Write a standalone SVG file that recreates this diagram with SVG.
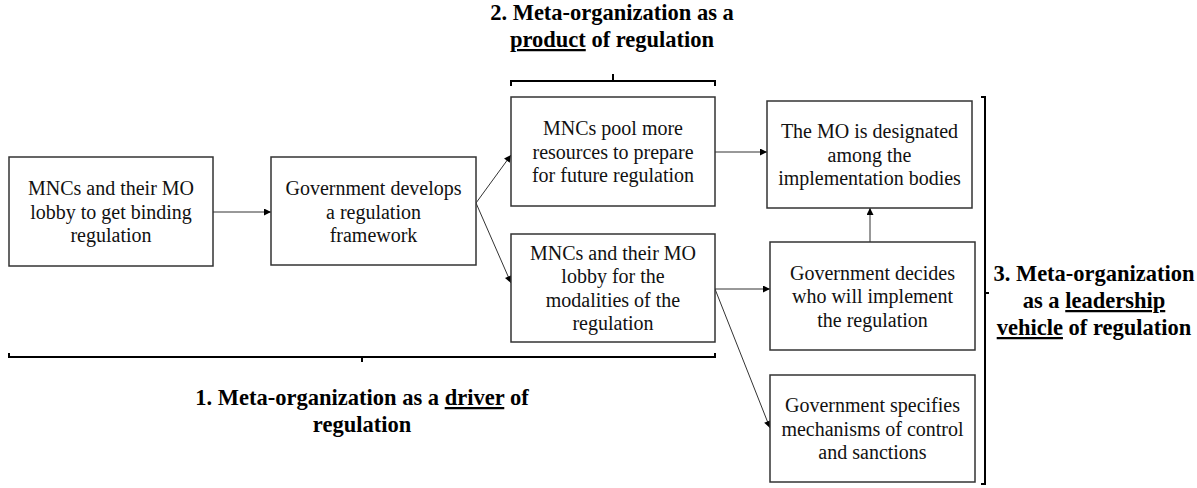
<svg xmlns="http://www.w3.org/2000/svg" width="1197" height="488" viewBox="0 0 1197 488">
<style>
.box{fill:#fff;stroke:#333;stroke-width:1.5}
.t{font-family:'Liberation Serif','Times New Roman',Times,serif;font-size:20px;fill:#111;text-anchor:middle}
.lb{font-family:'Liberation Serif','Times New Roman',Times,serif;font-size:22.5px;font-weight:bold;fill:#000;text-anchor:middle}
.c{stroke:#333;stroke-width:1;fill:none;marker-end:url(#ah)}
.br{stroke:#000;stroke-width:2;fill:none}
</style>
<defs>
<marker id="ah" viewBox="0 0 10 10" refX="10" refY="5" markerWidth="8" markerHeight="7" markerUnits="userSpaceOnUse" orient="auto">
<path d="M0,0 L10,5 L0,10 z" fill="#000"/>
</marker>
</defs>
<rect width="1197" height="488" fill="#fff"/>

<g id="connectors">
<line class="c" x1="213" y1="212" x2="271" y2="212"/>
<line class="c" x1="476" y1="203" x2="511" y2="155"/>
<line class="c" x1="476" y1="203" x2="511" y2="283"/>
<line class="c" x1="715" y1="152" x2="767" y2="152"/>
<line class="c" x1="715" y1="289" x2="770" y2="289"/>
<line class="c" x1="715" y1="289" x2="770" y2="428"/>
<line class="c" x1="870" y1="242" x2="870" y2="208"/>
</g>

<g id="n1"><rect class="box" x="9" y="157" width="204" height="109"/>
<text class="t" x="111" y="195">MNCs and their MO</text>
<text class="t" x="111" y="218.5">lobby to get binding</text>
<text class="t" x="111" y="242">regulation</text></g>

<g id="n2"><rect class="box" x="271" y="157" width="205" height="108"/>
<text class="t" x="373.5" y="195">Government develops</text>
<text class="t" x="373.5" y="218.5">a regulation</text>
<text class="t" x="373.5" y="242">framework</text></g>

<g id="n3"><rect class="box" x="511" y="97" width="204" height="109"/>
<text class="t" x="613" y="135">MNCs pool more</text>
<text class="t" x="613" y="158.5">resources to prepare</text>
<text class="t" x="613" y="182">for future regulation</text></g>

<g id="n4"><rect class="box" x="511" y="234" width="204" height="108"/>
<text class="t" x="613" y="259.5">MNCs and their MO</text>
<text class="t" x="613" y="283">lobby for the</text>
<text class="t" x="613" y="306.5">modalities of the</text>
<text class="t" x="613" y="330">regulation</text></g>

<g id="n5"><rect class="box" x="767" y="101" width="205" height="107"/>
<text class="t" x="869.5" y="138">The MO is designated</text>
<text class="t" x="869.5" y="161.5">among the</text>
<text class="t" x="869.5" y="185">implementation bodies</text></g>

<g id="n6"><rect class="box" x="770" y="242" width="205" height="108"/>
<text class="t" x="872.5" y="279.5">Government decides</text>
<text class="t" x="872.5" y="303">who will implement</text>
<text class="t" x="872.5" y="326.5">the regulation</text></g>

<g id="n7"><rect class="box" x="770" y="375" width="205" height="107"/>
<text class="t" x="872.5" y="412">Government specifies</text>
<text class="t" x="872.5" y="435.5">mechanisms of control</text>
<text class="t" x="872.5" y="459">and sanctions</text></g>

<g id="bracket1">
<path class="br" d="M9,353 V357 H715 V353"/>
<path class="br" d="M362,357 V362"/>
<text class="lb" x="362" y="405">1. Meta-organization as a <tspan text-decoration="underline">driver</tspan> of</text>
<text class="lb" x="362" y="432">regulation</text>
</g>

<g id="bracket2">
<path class="br" d="M511,86 V81 H715 V86"/>
<path class="br" d="M613,81 V74"/>
<text class="lb" x="612" y="20">2. Meta-organization as a</text>
<text class="lb" x="612" y="47"><tspan text-decoration="underline">product</tspan> of regulation</text>
</g>

<g id="bracket3">
<path class="br" d="M981,97 H985 V484 H981"/>
<path class="br" d="M985,293 H989"/>
<text class="lb" x="1094" y="281">3. Meta-organization</text>
<text class="lb" x="1094" y="308">as a <tspan text-decoration="underline">leadership</tspan></text>
<text class="lb" x="1094" y="335"><tspan text-decoration="underline">vehicle</tspan> of regulation</text>
</g>
</svg>
